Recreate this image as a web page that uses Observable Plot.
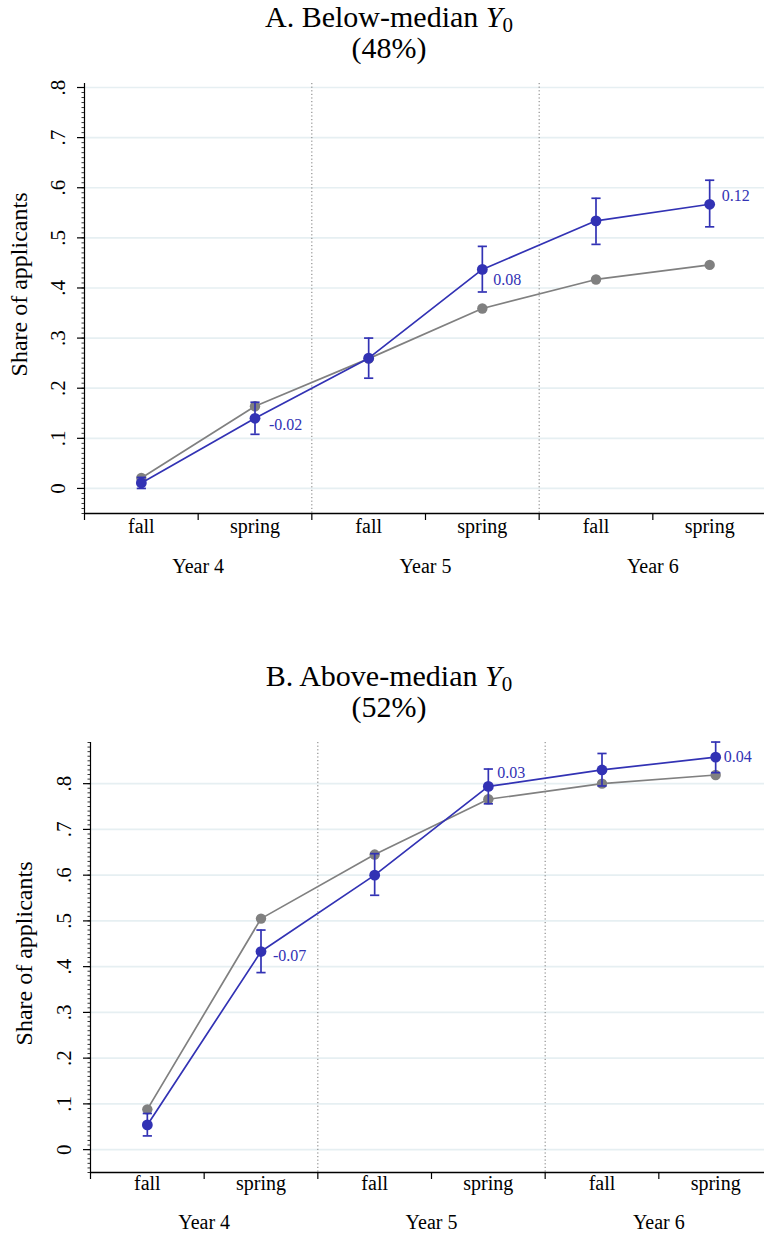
<!DOCTYPE html>
<html>
<head>
<meta charset="utf-8">
<script src="https://cdn.jsdelivr.net/npm/d3@7"></script>
<script src="https://cdn.jsdelivr.net/npm/@observablehq/plot@0.6"></script>
<style>
  body { margin: 0; background: #fff; overflow: hidden; font-family: "Liberation Serif", "Times New Roman", serif; }
  .panel-title { position: relative; width: 764px; }
  .panel-title div {
    position: absolute; left: 0; width: 764px; padding-left: 14px; box-sizing: border-box;
    text-align: center; font-size: 30px; line-height: 31px; color: #000; white-space: nowrap;
  }
  .panel-title sub { font-size: 0.7em; line-height: 0; vertical-align: -0.25em; }
  svg { display: block; }
</style>
</head>
<body>
<div id="chart"></div>
<script>
// Application timing: fall / spring of school years 4–6
const seasons = ["fall", "spring", "fall", "spring", "fall", "spring"];
const years = ["Year 4", "Year 5", "Year 6"];
const yTicks = [0, 0.1, 0.2, 0.3, 0.4, 0.5, 0.6, 0.7, 0.8];
const yTickLabels = ["0", ".1", ".2", ".3", ".4", ".5", ".6", ".7", ".8"];
const yTitle = "Share of applicants";

// Panel A: below-median Y0 (48% of sample)
const belowControl = [0.021, 0.164, 0.259, 0.359, 0.417, 0.446];
const belowTreated = [0.011, 0.140, 0.260, 0.437, 0.534, 0.567];
const belowLow     = [0.000, 0.108, 0.220, 0.392, 0.487, 0.522];
const belowHigh    = [0.022, 0.172, 0.300, 0.483, 0.579, 0.615];

// Panel B: above-median Y0 (52% of sample)
const aboveControl = [0.088, 0.505, 0.645, 0.766, 0.800, 0.819];
const aboveTreated = [0.054, 0.433, 0.600, 0.794, 0.830, 0.858];
const aboveLow     = [0.030, 0.387, 0.556, 0.756, 0.795, 0.824];
const aboveHigh    = [0.079, 0.480, 0.647, 0.832, 0.866, 0.891];

// spring points carry the treated − control gap as a label
const labelledIdx = [1, 3, 5];

const BLUE = "#3232B4";
const GRAY = "#808080";
const FONT = '"Liberation Serif", "Times New Roman", serif';

// short horizontal stroke used as an error-bar cap
const capSymbol = {
  draw(context) {
    const w = 4.6;
    context.moveTo(-w, 0);
    context.lineTo(w, 0);
  }
};

function drawPanel(cfg) {
  const root = document.getElementById("chart");

  const head = document.createElement("div");
  head.className = "panel-title";
  head.style.height = cfg.titleBlock + "px";
  const t = document.createElement("div");
  t.style.top = cfg.titleTop + "px";
  t.innerHTML = `${cfg.letter}. ${cfg.group} <i>Y</i><sub>0</sub><br>(${cfg.share})`;
  head.appendChild(t);
  root.appendChild(head);

  const rows = seasons.map((season, i) => ({
    i, season,
    control: cfg.control[i], treated: cfg.treated[i],
    lo: cfg.low[i], hi: cfg.high[i]
  }));
  const labelMarks = labelledIdx.map((idx, k) => {
    const r = rows[idx];
    return Plot.text([r], {
      x: "i", y: "treated",
      text: d => (d.treated - d.control).toFixed(2),
      textAnchor: "start", dx: cfg.labelDx[k], dy: cfg.labelDy[k],
      fill: BLUE, fontSize: 16
    });
  });

  const yBottom = cfg.height - cfg.marginBottom;
  const minor = d3.range(Math.ceil(cfg.yDomain[0] * 100), Math.floor(cfg.yDomain[1] * 100) + 1).map(k => k / 100);

  const svg = Plot.plot({
    width: 764,
    height: cfg.height,
    marginTop: cfg.marginTop,
    marginBottom: cfg.marginBottom,
    marginLeft: cfg.left,
    marginRight: 0,
    x: {domain: [-0.5, 5.5], range: [cfg.left, cfg.left + 682]},
    y: {domain: cfg.yDomain, range: [yBottom, cfg.marginTop]},
    style: {fontFamily: FONT, fontSize: "20px", background: "white", color: "black"},
    marks: [
      // horizontal grid
      Plot.ruleY(yTicks, {stroke: "#E6EFF2", strokeWidth: 1.7}),
      // school-year separators
      Plot.ruleX([1.5, 3.5], {stroke: "#7a7a7a", strokeWidth: 1, strokeDasharray: "1.2,2.4"}),
      // axes
      Plot.axisY(minor, {tickSize: 2.5, tickFormat: () => "", label: null, strokeWidth: 0.8}),
      Plot.axisY(yTicks, {tickSize: 7, tickFormat: () => "", label: null, strokeWidth: 1.2}),
      Plot.ruleX([-0.5], {stroke: "black", strokeWidth: 1.2}),
      Plot.axisX(d3.range(6).map(i => i - 0.5), {tickSize: 7, tickFormat: () => "", label: null, strokeWidth: 1.2}),
      Plot.ruleY([cfg.yDomain[0]], {stroke: "black", strokeWidth: 1.4}),
      Plot.text(yTicks, {x: -0.5, y: d => d, text: (d, i) => yTickLabels[i], rotate: -90, dx: -26, textAnchor: "middle", fontSize: 21}),
      Plot.text([yTitle], {frameAnchor: "left", textAnchor: "middle", rotate: -90, dx: cfg.titleDx, dy: cfg.titleDy, fontSize: 24}),
      Plot.text(seasons, {x: (d, i) => i, text: d => d, frameAnchor: "bottom", lineAnchor: "bottom", dy: cfg.seasonDy, fontSize: 20}),
      Plot.text(years, {x: (d, i) => 2 * i + 0.5, text: d => d, frameAnchor: "bottom", lineAnchor: "bottom", dy: cfg.yearDy, fontSize: 20}),
      // control group
      Plot.line(rows, {x: "i", y: "control", stroke: GRAY, strokeWidth: 1.7}),
      Plot.dot(rows, {x: "i", y: "control", r: 5.2, fill: GRAY}),
      // treated group with confidence intervals
      Plot.ruleX(rows, {x: "i", y1: "lo", y2: "hi", stroke: BLUE, strokeWidth: 1.7}),
      Plot.dot(rows, {x: "i", y: "lo", symbol: capSymbol, stroke: BLUE, strokeWidth: 1.7, r: 4}),
      Plot.dot(rows, {x: "i", y: "hi", symbol: capSymbol, stroke: BLUE, strokeWidth: 1.7, r: 4}),
      Plot.line(rows, {x: "i", y: "treated", stroke: BLUE, strokeWidth: 1.7}),
      Plot.dot(rows, {x: "i", y: "treated", r: 5.4, fill: BLUE}),
      ...labelMarks
    ]
  });
  root.appendChild(svg);
}

drawPanel({
  letter: "A", group: "Below-median", share: "48%",
  control: belowControl, treated: belowTreated, low: belowLow, high: belowHigh,
  titleBlock: 70, titleTop: 1,
  height: 530, marginTop: 13, marginBottom: 87, left: 84,
  yDomain: [-0.05, 0.808],
  seasonDy: 19, yearDy: 59, titleDx: -65, titleDy: -14,
  labelDx: [14, 11, 12], labelDy: [7, 10, -8]
});

drawPanel({
  letter: "B", group: "Above-median", share: "52%",
  control: aboveControl, treated: aboveTreated, low: aboveLow, high: aboveHigh,
  titleBlock: 130, titleTop: 60,
  height: 509, marginTop: 12, marginBottom: 67, left: 90,
  yDomain: [-0.05, 0.89],
  seasonDy: 17, yearDy: 56, titleDx: -66, titleDy: -4,
  labelDx: [12, 9, 8], labelDy: [4, -14, 0]
});
</script>
</body>
</html>
